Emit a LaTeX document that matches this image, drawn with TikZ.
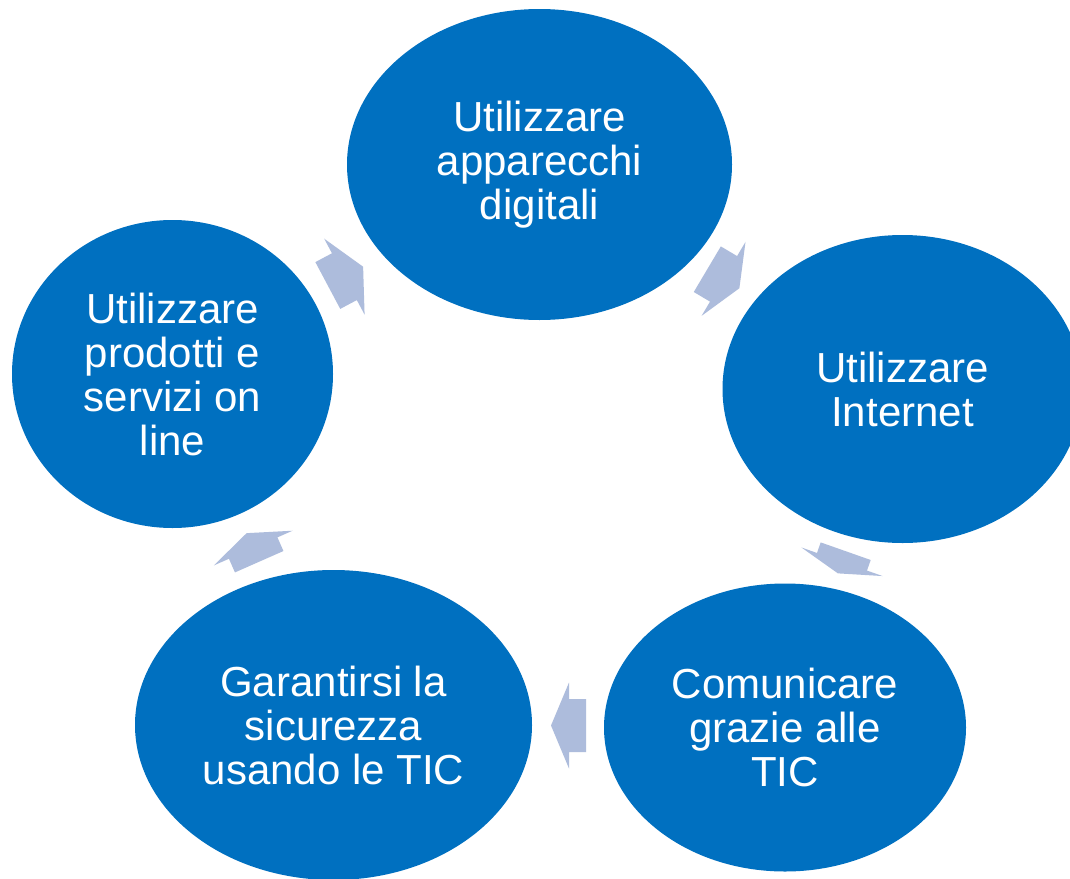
\documentclass[tikz,border=0pt]{standalone}
\usepackage{fontspec}
\setmainfont{Liberation Sans}
\usetikzlibrary{shapes.geometric}
\definecolor{ellblue}{HTML}{0070C0}
\definecolor{arrowfill}{HTML}{ADBCDC}
\tikzset{
  stage/.style={ellipse, fill=ellblue, draw=none, inner sep=0pt, text=white,
    align=center, font=\fontsize{42}{44}\selectfont},
  pics/barrow/.style 2 args={code={
    \fill[arrowfill] (0,-26.5) -- (#1,-26.5) -- (#1,-43) -- ({#1+#2},0)
      -- (#1,43) -- (#1,26.5) -- (0,26.5) -- cycle;
  }}
}
\begin{document}
\begin{tikzpicture}[x=1pt,y=-1pt]
\useasboundingbox (0,0) rectangle (1070,878);
\clip (0,0) rectangle (1070,878);
\fill[white] (0,0) rectangle (1070,878);
% stages
\node[stage, minimum width=385pt, minimum height=311pt] (top) at (539.5,164.5)
  {Utilizzare\\apparecchi\\digitali};
\node[stage, minimum width=360pt, minimum height=308pt] (right) at (902.5,389)
  {Utilizzare\\Internet};
\node[stage, minimum width=362pt, minimum height=288pt] (bright) at (785,727.5)
  {Comunicare\\grazie alle\\TIC};
\node[stage, minimum width=397pt, minimum height=310pt] (bleft) at (333.5,725)
  {Garantirsi la\\sicurezza\\usando le TIC};
\node[stage, minimum width=321pt, minimum height=308pt] (left) at (172.5,374)
  {Utilizzare\\prodotti e\\servizi on\\line};
% block arrows (tail points)
\coordinate (t0) at (327.8,285.5);
\coordinate (t1) at (707.3,269.2);
\coordinate (t2) at (845.7,551.2);
\coordinate (t3) at (259.2,561.7);
\coordinate (t4) at (586,725.5);
\begin{scope}[shift={(t0)},rotate=28] \pic[transform shape] {barrow={18.8}{21.2}}; \end{scope}
\begin{scope}[shift={(t1)},rotate=-30.7] \pic[transform shape] {barrow={18.9}{18.4}}; \end{scope}
\begin{scope}[shift={(t2)},rotate=-109.4] \pic[transform shape] {barrow={11.2}{12.3}}; \end{scope}
\begin{scope}[shift={(t3)},rotate=113.8] \pic[transform shape] {barrow={14.9}{16.3}}; \end{scope}
\begin{scope}[shift={(t4)},rotate=180] \pic[transform shape] {barrow={17}{18}}; \end{scope}
\end{tikzpicture}
\end{document}
